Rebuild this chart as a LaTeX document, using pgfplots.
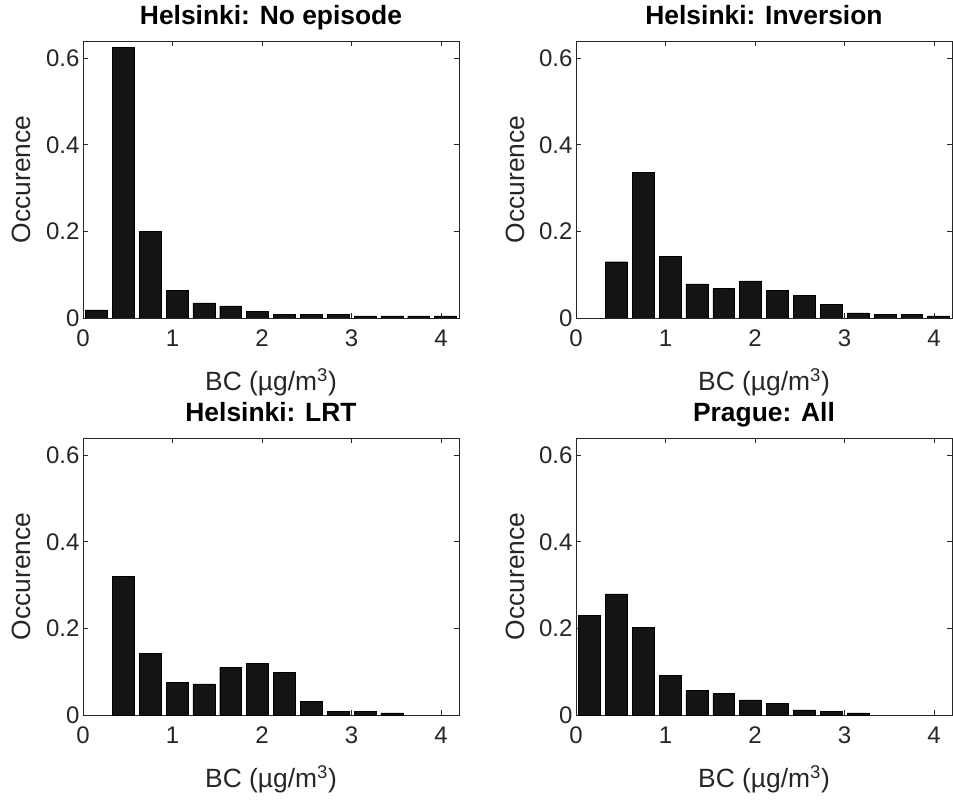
\documentclass[border=0pt]{standalone}
\usepackage{fontspec}
\setmainfont{Liberation Sans}
\usepackage{pgfplots}
\pgfplotsset{compat=1.18}
\usepackage{pgfplotstable}
\definecolor{axgray}{RGB}{38,38,38}
\definecolor{barblk}{RGB}{20,20,20}

\pgfplotstableread{
x y
0.15 0.019
0.45 0.626
0.75 0.201
1.05 0.064
1.35 0.035
1.65 0.028
1.95 0.016
2.25 0.0085
2.55 0.0085
2.85 0.0085
3.15 0.005
3.45 0.005
3.75 0.005
4.05 0.005
}\tA
\pgfplotstableread{
x y
0.45 0.130
0.75 0.337
1.05 0.142
1.35 0.079
1.65 0.068
1.95 0.0855
2.25 0.064
2.55 0.053
2.85 0.031
3.15 0.012
3.45 0.0085
3.75 0.0085
4.05 0.005
}\tB
\pgfplotstableread{
x y
0.45 0.321
0.75 0.143
1.05 0.076
1.35 0.072
1.65 0.110
1.95 0.120
2.25 0.098
2.55 0.031
2.85 0.0085
3.15 0.0085
3.45 0.005
}\tC
\pgfplotstableread{
x y
0.15 0.231
0.45 0.280
0.75 0.202
1.05 0.091
1.35 0.057
1.65 0.050
1.95 0.035
2.25 0.027
2.55 0.012
2.85 0.0085
3.15 0.005
}\tD

\pgfplotsset{
  hist/.style={
    scale only axis, width=376pt, height=277pt,
    anchor=south west,
    ybar, bar width=0.245,
    xmin=0, xmax=4.2, ymin=0, ymax=0.64,
    xtick={0,1,2,3,4}, ytick={0,0.2,0.4,0.6},
    tick align=inside, major tick length=5pt,
    xtick pos=both, ytick pos=both,
    xticklabel pos=bottom, yticklabel pos=left,
    axis line style={draw=axgray, line width=0.8pt},
    tick style={draw=axgray, line width=0.8pt},
    /pgf/number format/assume math mode=true,
    tick label style={font=\fontsize{24}{28}\selectfont, text=axgray},
    xticklabel style={yshift=-8pt},
    label style={font=\fontsize{26.4}{30}\selectfont, text=axgray},
    xlabel={BC (µg/m\textsuperscript{3})},
    ylabel={Occurence},
    xlabel style={at={(axis description cs:0.5,-0.2635)}, anchor=base},
    ylabel style={at={(axis description cs:-0.1383,0.5)}, anchor=base},
    title style={font=\bfseries\fontsize{26.4}{30}\selectfont, text=black, at={(axis description cs:0.5,1)}, anchor=base, yshift=11pt},
  },
  bars/.style={fill=barblk, draw=black, line width=0.4pt},
}

\begin{document}
\begin{tikzpicture}[x=1pt,y=1pt]
\useasboundingbox (0,0) rectangle (953,801);
\begin{axis}[hist, at={(83pt,483pt)}, title={Helsinki: No episode}]
\addplot[bars] table {\tA};
\end{axis}
\begin{axis}[hist, at={(576pt,483pt)}, title={Helsinki: Inversion}]
\addplot[bars] table {\tB};
\end{axis}
\begin{axis}[hist, at={(83pt,86pt)}, title={Helsinki: LRT}]
\addplot[bars] table {\tC};
\end{axis}
\begin{axis}[hist, at={(576pt,86pt)}, title={Prague: All}]
\addplot[bars] table {\tD};
\end{axis}
\end{tikzpicture}
\end{document}
